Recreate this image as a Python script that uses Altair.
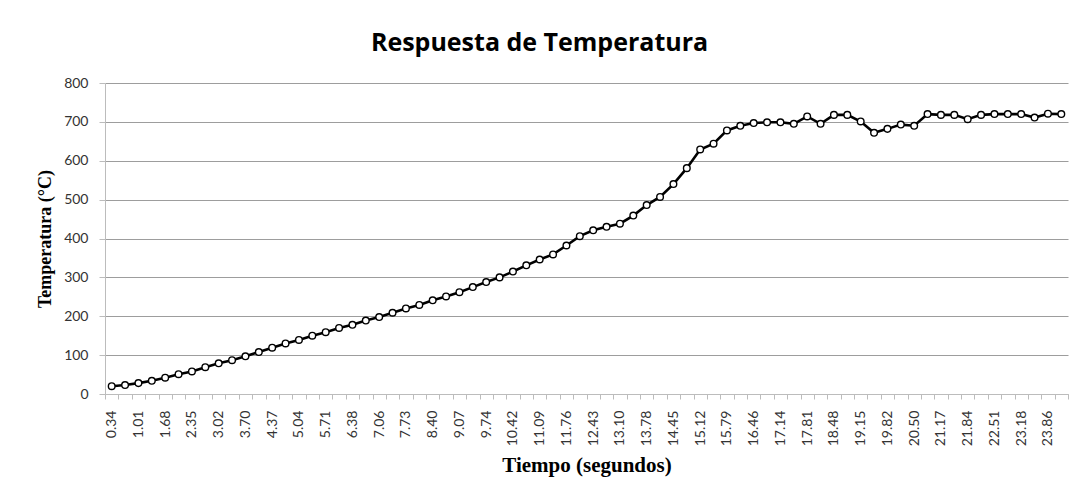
import json
import altair as alt
import pandas as pd

times = ["0.34", "0.68", "1.01", "1.35", "1.68", "2.02", "2.35", "2.69", "3.02", "3.36",
         "3.70", "4.03", "4.37", "4.70", "5.04", "5.38", "5.71", "6.05", "6.38", "6.72",
         "7.06", "7.39", "7.73", "8.07", "8.40", "8.74", "9.07", "9.41", "9.74", "10.08",
         "10.42", "10.75", "11.09", "11.42", "11.76", "12.10", "12.43", "12.77", "13.10", "13.44",
         "13.78", "14.11", "14.45", "14.78", "15.12", "15.46", "15.79", "16.13", "16.46", "16.80",
         "17.14", "17.47", "17.81", "18.14", "18.48", "18.82", "19.15", "19.49", "19.82", "20.16",
         "20.50", "20.83", "21.17", "21.50", "21.84", "22.18", "22.51", "22.85", "23.18", "23.52",
         "23.86", "24.19"]

temps = [20, 23, 28, 34, 42, 51, 58, 69, 79, 87, 97, 108, 119, 130, 139, 150, 159, 170,
         178, 189, 198, 209, 220, 229,
         241, 251, 262, 275, 288, 300, 315, 331, 346, 359, 382, 406, 421, 430, 438, 459,
         486, 507, 540, 581, 629, 644, 678, 690,
         697, 699, 699, 695, 714, 695, 718, 718, 701, 672, 682, 693, 690, 720, 718, 718,
         707, 718, 720, 720, 720, 711, 721, 720]

shown_labels = times[::2]
y_ticks = [0, 100, 200, 300, 400, 500, 600, 700, 800]

df = pd.DataFrame({"t": times, "temp": temps})

label_expr = "indexof(" + json.dumps(shown_labels) + ", datum.label) >= 0 ? datum.label : ''"

x_enc = alt.X(
    "t:N",
    sort=times,
    bandPosition=0.5,
    scale=alt.Scale(type="band", paddingInner=0, paddingOuter=0),
    axis=alt.Axis(
        title="Tiempo (segundos)",
        titleFont="Liberation Serif",
        titleFontSize=21,
        titleFontWeight="bold",
        titleColor="black",
        titlePadding=9,
        labelFont="Lato",
        labelFontSize=14,
        labelColor="#333333",
        labelAngle=-90,
        labelAlign="right",
        labelBaseline="middle",
        labelPadding=11,
        labelOverlap=False,
        labelExpr=label_expr,
        tickBand="extent",
        tickSize=5,
        tickColor="#bcbcbc",
        domainColor="#bcbcbc",
        grid=False,
    ),
)

y_enc = alt.Y(
    "temp:Q",
    scale=alt.Scale(domain=[0, 800], nice=False, zero=True),
    axis=alt.Axis(
        values=y_ticks,
        title="Temperatura (°C)",
        titleFont="Liberation Serif",
        titleFontSize=18,
        titleFontWeight="bold",
        titleColor="black",
        titlePadding=9,
        labelFont="Lato",
        labelFontSize=14,
        labelColor="#333333",
        labelPadding=11,
        tickSize=6,
        tickColor="#bcbcbc",
        domainColor="#bcbcbc",
        grid=True,
        gridColor="#9d9d9d",
        gridWidth=1,
    ),
)

base = alt.Chart(df).encode(x=x_enc, y=y_enc)

line = base.mark_line(color="black", strokeWidth=2.6)
points = base.mark_point(shape="circle", filled=True, fill="white", stroke="black",
                         strokeWidth=1.4, size=44, opacity=1)

chart = alt.layer(line, points).properties(
    width=963,
    height=311,
    title=alt.Title("Respuesta de Temperatura", font="Open Sans", fontSize=25,
                    fontWeight="bold", color="black", anchor="middle",
                    frame="group", dx=-47, offset=20),
    padding={"left": 97, "top": 75, "right": 2, "bottom": 94},
    autosize=alt.AutoSizeParams(type="none"),
    background="white",
).configure_view(stroke=None)

chart.save("out.html", embed_options={"renderer": "svg", "actions": False})
